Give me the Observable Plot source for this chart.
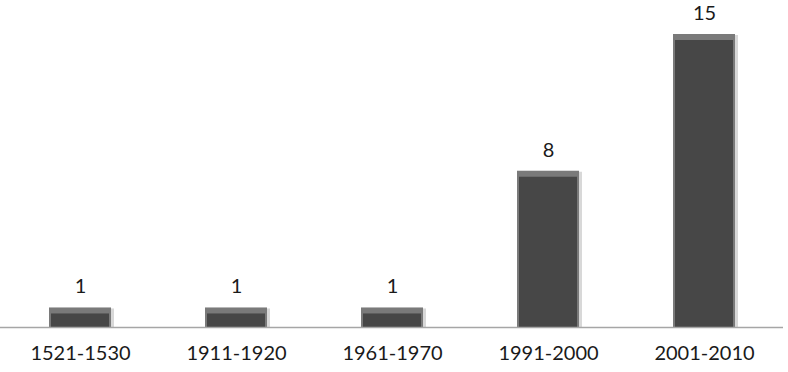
<!DOCTYPE html>
<html>
<head>
<meta charset="utf-8">
<script src="https://cdn.jsdelivr.net/npm/d3@7"></script>
<script src="https://cdn.jsdelivr.net/npm/@observablehq/plot@0.6"></script>
<style>
  body { margin: 0; background: #fff; }
  #chart svg { display: block; overflow: visible; }
</style>
</head>
<body>
<div id="chart"></div>
<script>
const periods = ["1521-1530", "1911-1920", "1961-1970", "1991-2000", "2001-2010"];
const counts = [1, 1, 1, 8, 15];

const data = periods.map((p, i) => ({ period: p, count: counts[i] }));

const chart = Plot.plot({
  width: 788,
  height: 372,
  marginLeft: 0,
  marginRight: 5,
  marginTop: 34,
  marginBottom: 45,
  style: { fontFamily: "Lato, 'Open Sans', sans-serif", background: "#fff" },
  x: { domain: periods, padding: 0, label: null },
  y: { domain: [0, 15], axis: null },
  marks: [
    Plot.barY(data, { x: "period", y: "count", fill: "#d8d8d8", insetLeft: 46, insetRight: 45, dx: 1, dy: 1 }),
    Plot.barY(data, { x: "period", y: "count", fill: "#7a7a7a", insetLeft: 47, insetRight: 47 }),
    Plot.barY(data, { x: "period", y: "count", fill: "#474747", insetLeft: 49, insetRight: 49, insetTop: 6 }),
    Plot.ruleY([0], { stroke: "#a6a6a6", strokeWidth: 1.5 }),
    Plot.text(data, { x: "period", y: "count", text: d => String(d.count), dy: -21, fontSize: 20, fill: "#1a1a1a" }),
    Plot.axisX({ tickSize: 0, tickPadding: 18, fontSize: 20, fill: "#1a1a1a", label: null })
  ]
});

document.getElementById("chart").appendChild(chart);
</script>
</body>
</html>
